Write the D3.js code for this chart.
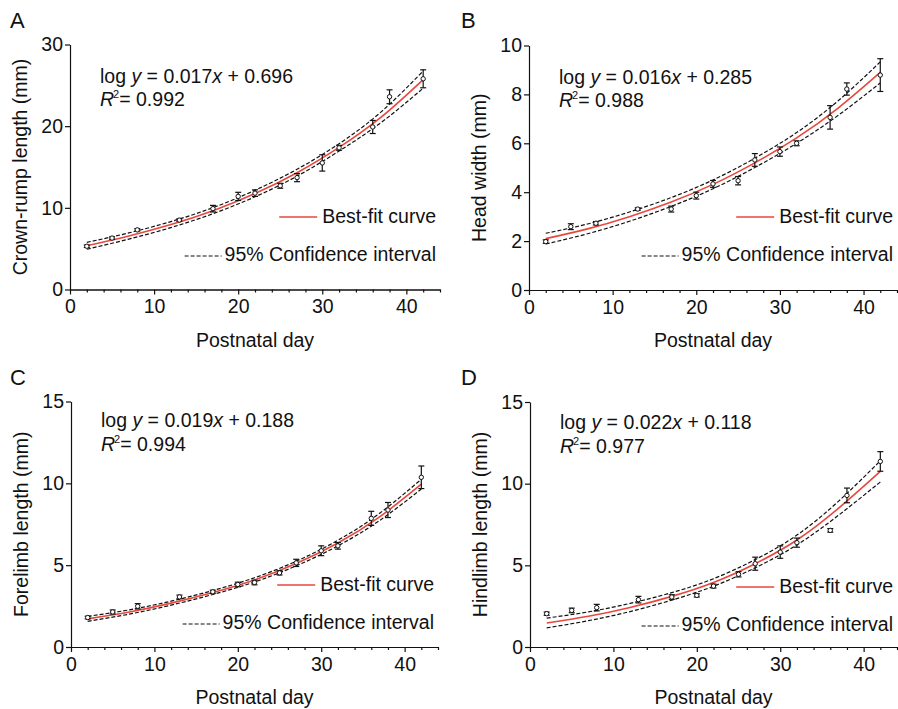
<!DOCTYPE html>
<html>
<head>
<meta charset="utf-8">
<script src="https://cdnjs.cloudflare.com/ajax/libs/d3/7.8.5/d3.min.js"></script>
<style>
body { margin: 0; background: #fff; }
svg text { font-family: Helvetica, Arial, "Liberation Sans", sans-serif; fill: #111; }
</style>
</head>
<body>
<svg id="chart" width="898" height="709"></svg>
<script>
// measured days (same for every panel)
var days = [2, 5, 8, 13, 17, 20, 22, 25, 27, 30, 32, 36, 38, 42];

// A - crown-rump length
var crownRumpMean = [5.3, 6.3, 7.3, 8.5, 9.9, 11.4, 11.8, 12.7, 13.7, 15.5, 17.35, 19.9, 23.6, 25.8];
var crownRumpErr = [0.15, 0.15, 0.15, 0.15, 0.4, 0.5, 0.4, 0.3, 0.5, 1.0, 0.3, 0.8, 0.85, 1.1];
// B - head width
var headMean = [1.98, 2.59, 2.73, 3.31, 3.31, 3.86, 4.34, 4.47, 5.32, 5.66, 6.0, 7.06, 8.22, 8.79];
var headErr = [0.07, 0.12, 0.07, 0.05, 0.12, 0.14, 0.14, 0.17, 0.26, 0.19, 0.1, 0.48, 0.25, 0.67];
// C - forelimb length
var foreMean = [1.8, 2.14, 2.49, 3.06, 3.37, 3.82, 3.94, 4.53, 5.14, 5.88, 6.18, 7.86, 8.37, 10.37];
var foreErr = [0.08, 0.12, 0.16, 0.11, 0.1, 0.14, 0.14, 0.13, 0.22, 0.3, 0.2, 0.43, 0.46, 0.69];
// D - hindlimb length
var hindMean = [2.04, 2.24, 2.41, 2.9, 3.06, 3.16, 3.73, 4.45, 5.1, 5.81, 6.39, 7.14, 9.28, 11.36];
var hindErr = [0.1, 0.14, 0.2, 0.2, 0.14, 0.1, 0.12, 0.16, 0.4, 0.38, 0.28, 0.11, 0.45, 0.6];

// best-fit curve and 95% CI
var curveDays = [2, 7, 12, 17, 22, 27, 32, 37, 42];
var crownRumpFit = [5.35, 6.55, 7.95, 9.65, 11.75, 14.3, 17.4, 21.1, 25.7];
var crownRumpHi = [5.77, 6.93, 8.32, 10.02, 12.15, 14.72, 17.85, 21.75, 26.75];
var crownRumpLo = [4.93, 6.17, 7.58, 9.28, 11.35, 13.88, 16.95, 20.45, 24.65];
var headFit = [2.1, 2.5, 3.0, 3.6, 4.32, 5.2, 6.22, 7.45, 8.9];
var headHi = [2.32, 2.7, 3.19, 3.78, 4.5, 5.39, 6.44, 7.75, 9.33];
var headLo = [1.88, 2.3, 2.81, 3.42, 4.14, 5.01, 6.0, 7.15, 8.47];
var foreFit = [1.72, 2.14, 2.68, 3.33, 4.1, 5.1, 6.35, 7.95, 9.95];
var foreHi = [1.87, 2.27, 2.8, 3.45, 4.23, 5.24, 6.52, 8.17, 10.25];
var foreLo = [1.57, 2.01, 2.56, 3.21, 3.97, 4.96, 6.18, 7.73, 9.65];
var hindFit = [1.47, 1.88, 2.42, 3.1, 3.95, 5.1, 6.55, 8.5, 10.75];
var hindHi = [1.77, 2.15, 2.67, 3.33, 4.18, 5.35, 6.85, 8.93, 11.4];
var hindLo = [1.17, 1.61, 2.17, 2.87, 3.72, 4.85, 6.25, 8.07, 10.1];

// text and axes
var panelLetters = ["A", "B", "C", "D"];
var yLabels = ["Crown-rump length (mm)", "Head width (mm)", "Forelimb length (mm)", "Hindlimb length (mm)"];
var yMax = [30, 10, 15, 15];
var yTicks = [[0, 10, 20, 30], [0, 2, 4, 6, 8, 10], [0, 5, 10, 15], [0, 5, 10, 15]];
var xTicks = [0, 10, 20, 30, 40];
var xMinorTicks = [2, 4, 6, 8, 12, 14, 16, 18, 22, 24, 26, 28, 32, 34, 36, 38, 42, 44];
var slopes = ["0.017", "0.016", "0.019", "0.022"];
var intercepts = ["0.696", "0.285", "0.188", "0.118"];
var rSquared = ["0.992", "0.988", "0.994", "0.977"];

var series = [
	{mean: crownRumpMean, err: crownRumpErr, fit: crownRumpFit, hi: crownRumpHi, lo: crownRumpLo},
	{mean: headMean, err: headErr, fit: headFit, hi: headHi, lo: headLo},
	{mean: foreMean, err: foreErr, fit: foreFit, hi: foreHi, lo: foreLo},
	{mean: hindMean, err: hindErr, fit: hindFit, hi: hindHi, lo: hindLo}
];

// layout of the four panels (pixels)
var panels = [
	{left: 70, right: 440, top: 44.5, bottom: 289.5, letterX: 10, letterY: 28, eqY: 83, r2Y: 106, legY: 223},
	{left: 529, right: 897, top: 45.5, bottom: 290, letterX: 461, letterY: 28, eqY: 84, r2Y: 107, legY: 223},
	{left: 71, right: 438, top: 401.5, bottom: 647, letterX: 10, letterY: 385, eqY: 427, r2Y: 451, legY: 591},
	{left: 530, right: 897, top: 402, bottom: 647, letterX: 461, letterY: 385, eqY: 429, r2Y: 453, legY: 593}
];

var RED = "#e8473d";
var FONT = 19.5;
var svg = d3.select("#chart");

function style_axis(g)
{
	g.selectAll("path, line").attr("stroke", "#111").attr("stroke-width", 1.2);
	g.selectAll("text").attr("font-size", FONT).attr("font-family", null).attr("fill", "#111");
}

function draw_panel(p, i)
{
	var s = series[i];
	var x = d3.scaleLinear().domain([0, 44]).range([p.left, p.right]);
	var y = d3.scaleLinear().domain([0, yMax[i]]).range([p.bottom, p.top]);
	var g = svg.append("g");

	// axes
	g.append("g")
		.attr("transform", "translate(0," + p.bottom + ")")
		.call(d3.axisBottom(x).tickValues(xMinorTicks).tickSize(3).tickSizeOuter(0).tickFormat(""))
		.call(style_axis);
	g.append("g")
		.attr("transform", "translate(0," + p.bottom + ")")
		.call(d3.axisBottom(x).tickValues(xTicks).tickSize(5).tickSizeOuter(0).tickPadding(5))
		.call(style_axis);
	g.append("g")
		.attr("transform", "translate(" + p.left + ",0)")
		.call(d3.axisLeft(y).tickValues(yTicks[i]).tickSize(5).tickSizeOuter(0).tickPadding(2))
		.call(style_axis);

	// axis titles
	g.append("text")
		.attr("x", (p.left + p.right) / 2)
		.attr("y", p.bottom + 57)
		.attr("text-anchor", "middle")
		.attr("font-size", FONT)
		.text("Postnatal day");
	g.append("text")
		.attr("transform", "translate(" + (p.left - 43) + "," + (p.top + p.bottom) / 2 + ") rotate(-90)")
		.attr("text-anchor", "middle")
		.attr("font-size", FONT)
		.text(yLabels[i]);
	g.append("text")
		.attr("x", p.letterX)
		.attr("y", p.letterY)
		.attr("font-size", 22)
		.text(panelLetters[i]);

	// fit and confidence band
	var line = function(vals){
		return d3.line()
			.x(function(d, k){ return x(curveDays[k]); })
			.y(function(d){ return y(d); })
			.curve(d3.curveNatural)(vals);
	};
	[s.hi, s.lo].forEach(function(vals){
		g.append("path")
			.attr("d", line(vals))
			.attr("fill", "none")
			.attr("stroke", "#111")
			.attr("stroke-width", 1.2)
			.attr("stroke-dasharray", "4,2");
	});
	g.append("path")
		.attr("d", line(s.fit))
		.attr("fill", "none")
		.attr("stroke", RED)
		.attr("stroke-width", 1.6);

	// error bars and points
	var pts = g.selectAll("g.pt").data(days).enter().append("g").attr("class", "pt");
	pts.append("line")
		.attr("x1", function(d){ return x(d); })
		.attr("x2", function(d){ return x(d); })
		.attr("y1", function(d, k){ return y(s.mean[k] - s.err[k]); })
		.attr("y2", function(d, k){ return y(s.mean[k] + s.err[k]); });
	pts.append("line")
		.attr("x1", function(d){ return x(d) - 3; })
		.attr("x2", function(d){ return x(d) + 3; })
		.attr("y1", function(d, k){ return y(s.mean[k] + s.err[k]); })
		.attr("y2", function(d, k){ return y(s.mean[k] + s.err[k]); });
	pts.append("line")
		.attr("x1", function(d){ return x(d) - 3; })
		.attr("x2", function(d){ return x(d) + 3; })
		.attr("y1", function(d, k){ return y(s.mean[k] - s.err[k]); })
		.attr("y2", function(d, k){ return y(s.mean[k] - s.err[k]); });
	pts.selectAll("line").attr("stroke", "#111").attr("stroke-width", 1.2);
	pts.append("circle")
		.attr("cx", function(d){ return x(d); })
		.attr("cy", function(d, k){ return y(s.mean[k]); })
		.attr("r", 2.2)
		.attr("fill", "#fff")
		.attr("stroke", "#111")
		.attr("stroke-width", 1);

	// equation
	var eq = g.append("text").attr("x", p.left + 30).attr("y", p.eqY).attr("font-size", FONT);
	eq.append("tspan").text("log ");
	eq.append("tspan").attr("font-style", "italic").text("y");
	eq.append("tspan").text(" = " + slopes[i]);
	eq.append("tspan").attr("font-style", "italic").text("x");
	eq.append("tspan").text(" + " + intercepts[i]);
	var r2 = g.append("text").attr("x", p.left + 30).attr("y", p.r2Y).attr("font-size", FONT);
	r2.append("tspan").attr("font-style", "italic").text("R");
	r2.append("tspan").attr("font-size", 11).attr("dy", -8).attr("dx", -1).text("2");
	r2.append("tspan").attr("dy", 8).text("= " + rSquared[i]);

	// legend
	var tx = p.right - 4;
	var t1 = g.append("text").attr("x", tx).attr("y", p.legY)
		.attr("text-anchor", "end").attr("font-size", FONT).text("Best-fit curve");
	var w1 = t1.node().getComputedTextLength();
	g.append("line")
		.attr("x1", tx - w1 - 43).attr("x2", tx - w1 - 5)
		.attr("y1", p.legY - 6).attr("y2", p.legY - 6)
		.attr("stroke", RED).attr("stroke-width", 1.6);
	var t2 = g.append("text").attr("x", tx).attr("y", p.legY + 38)
		.attr("text-anchor", "end").attr("font-size", FONT).text("95% Confidence interval");
	var w2 = t2.node().getComputedTextLength();
	g.append("line")
		.attr("x1", tx - w2 - 40).attr("x2", tx - w2 - 3)
		.attr("y1", p.legY + 33).attr("y2", p.legY + 33)
		.attr("stroke", "#111").attr("stroke-width", 1.2)
		.attr("stroke-dasharray", "4,2");
}

panels.forEach(draw_panel);
</script>
</body>
</html>
